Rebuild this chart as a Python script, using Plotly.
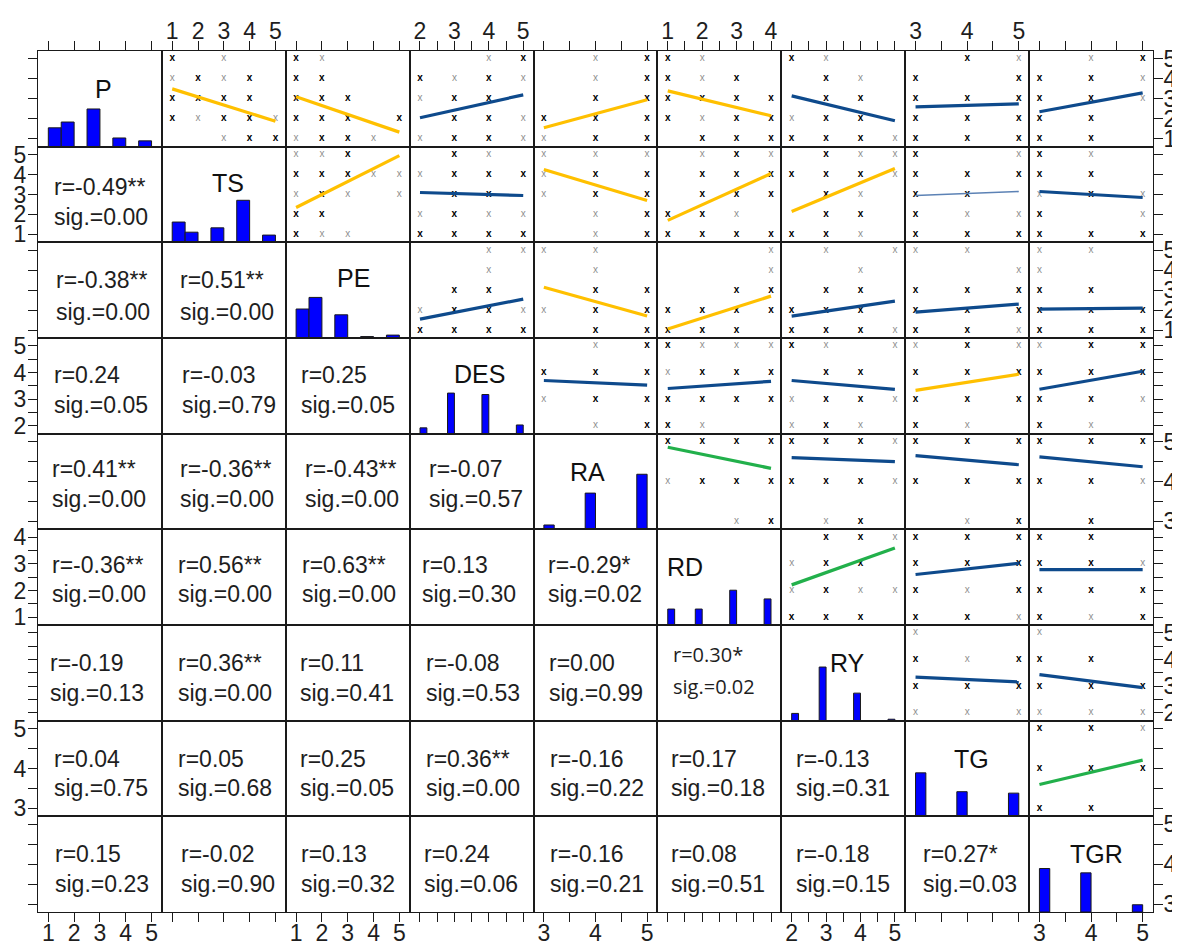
import plotly.graph_objects as go

# ---------------- data ----------------
variables = ["P", "TS", "PE", "DES", "RA", "RD", "RY", "TG", "TGR"]
var_min = [1, 1, 1, 2, 3, 1, 2, 3, 3]
var_max = [5, 5, 5, 5, 5, 4, 5, 5, 5]
tick_step = [1, 1, 1, 0.5, 0.5, 0.5, 0.5, 0.5, 0.5]
hist_bin_width = [0.5, 0.5, 0.5, 0.2, 0.2, 0.2, 0.2, 0.2, 0.2]

# histogram counts per integer value (min..max)
hist_counts = {
    "P":   [13, 17, 26, 6, 4],
    "TS":  [14, 7, 10, 29, 5],
    "PE":  [20, 28, 16, 1, 2],
    "DES": [4, 28, 27, 6],
    "RA":  [3, 25, 38],
    "RD":  [11, 11, 24, 18],
    "RY":  [5, 37, 19, 1],
    "TG":  [30, 17, 16],
    "TGR": [30, 27, 5],
}

# lower triangle: r and sig per row (row variable vs. preceding columns)
corr_r = [
    [-0.49],
    [-0.38, 0.51],
    [0.24, -0.03, 0.25],
    [0.41, -0.36, -0.43, -0.07],
    [-0.36, 0.56, 0.63, 0.13, -0.29],
    [-0.19, 0.36, 0.11, -0.08, 0.00, 0.30],
    [0.04, 0.05, 0.25, 0.36, -0.16, 0.17, -0.13],
    [0.15, -0.02, 0.13, 0.24, -0.16, 0.08, -0.18, 0.27],
]
corr_sig = [
    [0.00],
    [0.00, 0.00],
    [0.05, 0.79, 0.05],
    [0.00, 0.00, 0.00, 0.57],
    [0.00, 0.00, 0.00, 0.30, 0.02],
    [0.13, 0.00, 0.41, 0.53, 0.99, 0.02],
    [0.75, 0.68, 0.05, 0.00, 0.22, 0.18, 0.31],
    [0.23, 0.90, 0.32, 0.06, 0.21, 0.51, 0.15, 0.03],
]

# upper triangle scatter: rows = y values from max down to min,
# columns = x values from min to max; b = several obs, g = one obs
scatter_grids = {
    ("P", "TS"):   ["b.g..", "gbgb.", "bbbb.", "bgbbg", "..gbb"],
    ("P", "PE"):   ["bg...", "bb...", "bbb..", "bbb.b", "gbbg."],
    ("P", "DES"):  ["..gb", "bgbg", "gbb.", ".bbg", "gbbg"],
    ("P", "RA"):   [".gb", ".gb", ".bb", "bbb", "gbb"],
    ("P", "RD"):   ["bg..", "bgb.", "bbbb", "bgbb", ".bbb"],
    ("P", "RY"):   ["bg..", ".bg.", ".bb.", "gbb.", "bbbg"],
    ("P", "TG"):   [".bg", "b.b", "bbb", "bbb", "bbb"],
    ("P", "TGR"):  [".gb", "bbg", "bbg", "bb.", "bb."],
    ("TS", "PE"):  ["ggb..", "bbbgg", "gbg.g", "bb...", "bgg.."],
    ("TS", "DES"): [".bg.", "gbbb", ".bb.", "gbgg", "bbbb"],
    ("TS", "RA"):  ["ggg", "gbb", "gbb", ".gb", ".gb"],
    ("TS", "RD"):  [".gbg", ".bbb", ".bbb", "bbg.", "bbbb"],
    ("TS", "RY"):  [".bgg", "bbbg", ".bg.", ".bb.", "bbg."],
    ("TS", "TG"):  ["b.g", "bbb", "bb.", "bgg", "bbb"],
    ("TS", "TGR"): ["bg.", "bb.", "gbg", "b.g", "bbb"],
    ("PE", "DES"): ["..gg", "..g.", ".bb.", "gbbg", "bbbb"],
    ("PE", "RA"):  ["gg.", ".g.", ".bb", "gbb", ".bb"],
    ("PE", "RD"):  ["...g", "...g", "..bb", "bbbb", "bbb."],
    ("PE", "RY"):  [".g.g", "..g.", ".bb.", "bbb.", "bbbg"],
    ("PE", "TG"):  ["gg.", "..g", "bbb", "bbb", "bbg"],
    ("PE", "TGR"): ["gg.", "g..", "bb.", "bbb", "bbb"],
    ("DES", "RA"): [".gb", "bbb", "gbb", ".gb"],
    ("DES", "RD"): ["bggg", "gbbb", "bbbb", "bg.."],
    ("DES", "RY"): ["bg.g", ".bb.", "gbbg", "gbg."],
    ("DES", "TG"): ["gbg", "bbb", "bbb", "bg."],
    ("DES", "TGR"): ["gbb", "bbb", "bbg", "bg."],
    ("RA", "RD"):  ["bbbb", "gbbb", "..gb"],
    ("RA", "RY"):  ["bbbg", "bbbg", ".gb."],
    ("RA", "TG"):  ["bbb", "bbb", ".gb"],
    ("RA", "TGR"): ["bbb", "bbg", ".b."],
    ("RD", "RY"):  [".bbg", "gbb.", "gbgg", "bbb."],
    ("RD", "TG"):  ["bbb", "bbb", "bgb", "bbg"],
    ("RD", "TGR"): ["bb.", "bbg", "bbb", "bgb"],
    ("RY", "TG"):  ["g..", "bgb", "bbb", "ggg"],
    ("RY", "TGR"): ["g..", "bb.", "bbb", "ggg"],
    ("TG", "TGR"): ["bbg", "bbb", "bb."],
}

# fitted line: y value at x = min and at x = max of the column variable
fit_ends = {
    ("P", "TS"): (3.5, 1.88), ("P", "PE"): (3.1, 1.33), ("P", "DES"): (2.05, 3.2),
    ("P", "RA"): (1.55, 2.95), ("P", "RD"): (3.4, 2.15), ("P", "RY"): (3.15, 1.9),
    ("P", "TG"): (2.6, 2.75), ("P", "TGR"): (2.35, 3.3),
    ("TS", "PE"): (2.35, 4.95), ("TS", "DES"): (3.1, 2.95), ("TS", "RA"): (4.25, 2.7),
    ("TS", "RD"): (1.7, 4.05), ("TS", "RY"): (2.15, 4.3), ("TS", "TG"): (2.95, 3.15),
    ("TS", "TGR"): (3.15, 2.85),
    ("PE", "DES"): (1.55, 2.55), ("PE", "RA"): (3.15, 1.7), ("PE", "RD"): (1.05, 2.7),
    ("PE", "RY"): (1.7, 2.45), ("PE", "TG"): (1.9, 2.3), ("PE", "TGR"): (2.05, 2.1),
    ("DES", "RA"): (3.7, 3.53), ("DES", "RD"): (3.4, 3.67), ("DES", "RY"): (3.7, 3.37),
    ("DES", "TG"): (3.33, 3.94), ("DES", "TGR"): (3.37, 4.05),
    ("RA", "RD"): (4.86, 4.33), ("RA", "RY"): (4.6, 4.5), ("RA", "TG"): (4.65, 4.42),
    ("RA", "TGR"): (4.62, 4.37),
    ("RD", "RY"): (2.21, 3.6), ("RD", "TG"): (2.6, 3.02), ("RD", "TGR"): (2.78, 2.78),
    ("RY", "TG"): (3.34, 3.16), ("RY", "TGR"): (3.43, 2.94),
    ("TG", "TGR"): (3.6, 4.21),
}
thin_lines = [("TS", "TG")]

# ---------------- style / layout constants ----------------
# the page body adds an 8 px offset, so the figure is 8 px smaller in each direction
W, H = 1172, 937
ML, MR, MT, MB = 30, 27, 43, 33
PW, PH = W - ML - MR, H - MT - MB
N = 9
CW, CH = PW / N, PH / N
FONT = "Liberation Sans, Arial, sans-serif"
TXT = "#1e1e1e"
COL_STRONG = "#FFC000"
COL_WEAK = "#22B04B"
COL_NS = "#0E4A8C"
COL_THIN = "#5C82B5"
HIST_TOP = 66  # count that fills the full height of a diagonal cell

diag_label_pos = {  # (center px from cell left, center px from cell top)
    "P": (65, 38), "TS": (66, 36), "PE": (68, 36), "DES": (70, 36), "RA": (54, 38),
    "RD": (28, 38), "RY": (66, 38), "TG": (66, 38), "TGR": (67, 38),
}
text_x_off = [
    [14],
    [16, 16],
    [14, 18, 13],
    [12, 16, 17, 17],
    [12, 14, 14, 10, 12],
    [10, 14, 12, 14, 13, 14],
    [14, 14, 12, 14, 14, 12, 13],
    [15, 17, 13, 12, 14, 12, 13, 16],
]
text_y_off = [(40, 70), (38, 70), (37, 67), (35, 65), (36, 65), (38, 68), (38, 67), (38, 68)]


def axname(k):
    return "" if k == 1 else str(k)


def vrange(v):
    lo, hi = var_min[v], var_max[v]
    e = 0.1 * (hi - lo)
    return [lo - e, hi + e]


def vticks(v):
    vals, t = [], var_min[v]
    while t <= var_max[v] + 1e-9:
        vals.append(round(t, 3))
        t += tick_step[v]
    txt = [str(int(round(t))) if abs(t - round(t)) < 1e-9 else "" for t in vals]
    return vals, txt


def stars(s):
    return "**" if s < 0.01 else ("*" if s < 0.05 else "")


fig = go.Figure()
layout = dict(
    template="none",
    width=W, height=H,
    margin=dict(l=ML, r=MR, t=MT, b=MB, pad=0, autoexpand=False),
    plot_bgcolor="white", paper_bgcolor="white",
    showlegend=False, barmode="overlay",
    font=dict(family=FONT, size=23, color=TXT),
)

for i in range(N):
    for j in range(N):
        k = i * N + j + 1
        xd = [j / N, (j + 1) / N]
        yd = [1 - (i + 1) / N, 1 - i / N]
        xv, xt = vticks(j)
        yv, yt = vticks(i)
        xa = dict(domain=xd, anchor="y" + axname(k), range=vrange(j), automargin=False,
                  showline=True, mirror=True, linecolor="#1a1a1a", linewidth=1,
                  showgrid=False, zeroline=False, fixedrange=True,
                  tickmode="array", tickvals=xv, ticktext=xt,
                  tickcolor="#1a1a1a", ticklen=9, tickwidth=1,
                  tickfont=dict(family=FONT, size=23, color=TXT))
        if i == 0:
            xa.update(side="top", ticks="outside", showticklabels=(j % 2 == 1),
                      ticklabelstandoff=-7)
        elif i == N - 1:
            xa.update(side="bottom", ticks="outside", showticklabels=(j % 2 == 0),
                      ticklabelstandoff=-9)
        else:
            xa.update(ticks="", showticklabels=False)
        ya = dict(domain=yd, anchor="x" + axname(k), range=vrange(i), automargin=False,
                  showline=True, mirror=True, linecolor="#1a1a1a", linewidth=1,
                  showgrid=False, zeroline=False, fixedrange=True,
                  tickmode="array", tickvals=yv, ticktext=yt,
                  tickcolor="#1a1a1a", ticklen=9, tickwidth=1,
                  tickfont=dict(family=FONT, size=23, color=TXT))
        if j == 0:
            ya.update(side="left", ticks="outside", showticklabels=(i % 2 == 1),
                      ticklabelstandoff=-3)
        elif j == N - 1:
            ya.update(side="right", ticks="outside", showticklabels=(i % 2 == 0),
                      ticklabelstandoff=-4)
        else:
            ya.update(ticks="", showticklabels=False)
        layout["xaxis" + axname(k)] = xa
        layout["yaxis" + axname(k)] = ya

annotations = []

# diagonal: histograms (drawn on the cell's own axes, bars start at the bottom edge)
for d in range(N):
    name = variables[d]
    k = d * N + d + 1
    lo, hi = vrange(d)
    unit = (hi - lo) / HIST_TOP
    w = hist_bin_width[d]
    vals = list(range(var_min[d], var_max[d] + 1))
    centers = [(v + w / 2) if v == var_min[d] else (v - w / 2) for v in vals]
    fig.add_trace(go.Bar(x=centers, y=[c * unit for c in hist_counts[name]],
                         base=[lo] * len(vals), width=[w] * len(vals),
                         marker=dict(color="#0000FF", line=dict(color="#1a1a1a", width=1)),
                         xaxis="x" + axname(k), yaxis="y" + axname(k), hoverinfo="skip"))
    cx, cy = diag_label_pos[name]
    annotations.append(dict(
        x=(d * CW + cx) / PW, y=1 - (d * CH + cy) / PH, xref="paper", yref="paper",
        text=name, showarrow=False, xanchor="center", yanchor="middle",
        font=dict(family=FONT, size=25, color="#111111")))

# upper triangle: scatter + fitted lines
for i in range(N):
    for j in range(i + 1, N):
        k = i * N + j + 1
        key = (variables[i], variables[j])
        grid = scatter_grids[key]
        gx, gy, bx, by = [], [], [], []
        for r_idx, row in enumerate(grid):
            yval = var_max[i] - r_idx
            for c_idx, ch in enumerate(row):
                xval = var_min[j] + c_idx
                if ch == "g":
                    gx.append(xval); gy.append(yval)
                elif ch == "b":
                    bx.append(xval); by.append(yval)
        for xs, ys, col, wt in ((gx, gy, "#8f8f8f", "normal"), (bx, by, "#000000", "bold")):
            if xs:
                fig.add_trace(go.Scatter(x=xs, y=ys, mode="text", text=["x"] * len(xs),
                                         textposition="middle center",
                                         textfont=dict(family=FONT, size=10, color=col, weight=wt),
                                         xaxis="x" + axname(k), yaxis="y" + axname(k),
                                         hoverinfo="skip"))
        s = corr_sig[j - 1][i]
        st = stars(s)
        col = COL_STRONG if st == "**" else (COL_WEAK if st == "*" else COL_NS)
        lw = 3.2
        if key in thin_lines:
            col, lw = COL_THIN, 1.6
        y0, y1 = fit_ends[key]
        fig.add_trace(go.Scatter(x=[var_min[j], var_max[j]], y=[y0, y1], mode="lines",
                                 line=dict(color=col, width=lw),
                                 xaxis="x" + axname(k), yaxis="y" + axname(k),
                                 hoverinfo="skip"))

# lower triangle: empty subplot (for its frame) + r / sig text
for i in range(1, N):
    for j in range(i):
        k = i * N + j + 1
        fig.add_trace(go.Scatter(x=[None], y=[None], mode="markers",
                                 xaxis="x" + axname(k), yaxis="y" + axname(k),
                                 hoverinfo="skip"))
        r = corr_r[i - 1][j]
        s = corr_sig[i - 1][j]
        rtxt = "r=%.2f%s" % (r, stars(s))
        stxt = "sig.=%.2f" % s
        xo = text_x_off[i - 1][j]
        yo1, yo2 = text_y_off[i - 1]
        fsize, fam = 23, FONT
        if (i, j) == (6, 5):
            yo1, yo2, fsize, fam = 29, 61, 20, "Open Sans, Noto Sans, sans-serif"
        for txt, yo in ((rtxt, yo1), (stxt, yo2)):
            annotations.append(dict(
                x=(j * CW + xo) / PW, y=1 - (i * CH + yo) / PH, xref="paper", yref="paper",
                text=txt, showarrow=False, xanchor="left", yanchor="middle",
                font=dict(family=fam, size=fsize, color=TXT)))

layout["annotations"] = annotations
fig.update_layout(**layout)
fig.write_html("out.html")
